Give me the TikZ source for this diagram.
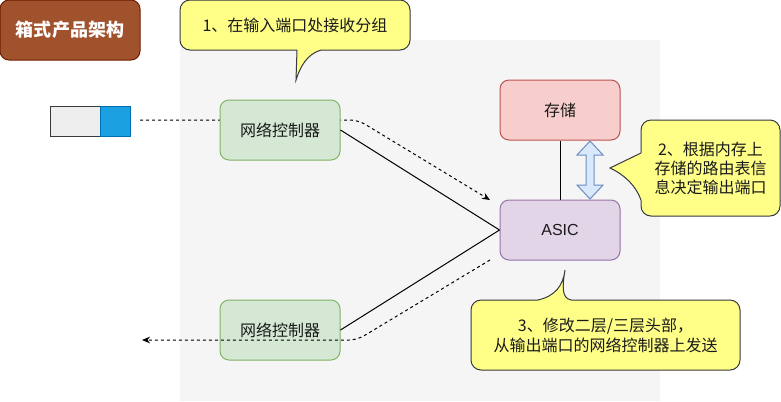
\documentclass[tikz,border=0pt]{standalone}
\usepackage{fontspec}
\setmainfont{Noto Sans CJK SC}
\newfontfamily\latinfont{Liberation Sans}
\usetikzlibrary{arrows.meta}
\definecolor{bgc}{HTML}{F5F5F5}
\definecolor{titlefill}{HTML}{A0522D}
\definecolor{titledraw}{HTML}{6D1F00}
\definecolor{cfill}{HTML}{FFFF88}
\definecolor{cdraw}{HTML}{36393D}
\definecolor{gfill}{HTML}{D5E8D4}
\definecolor{gdraw}{HTML}{82B366}
\definecolor{rfill}{HTML}{F8CECC}
\definecolor{rdraw}{HTML}{B85450}
\definecolor{pfill}{HTML}{E1D5E7}
\definecolor{pdraw}{HTML}{9673A6}
\definecolor{bfill}{HTML}{DAE8FC}
\definecolor{bdraw}{HTML}{6C8EBF}
\definecolor{pkgray}{HTML}{EEEEEE}
\definecolor{pkblue}{HTML}{1BA1E2}
\definecolor{pkbluedraw}{HTML}{006EAF}
\definecolor{txt}{HTML}{1A1A1A}
\begin{document}
\begin{tikzpicture}[x=0.75pt,y=-0.75pt,
  box/.style={draw, rounded corners=6.75pt, minimum width=90pt, minimum height=45pt,
    inner sep=0pt, line width=0.75pt, text=txt, font=\fontsize{12pt}{14pt}\selectfont},
  callout/.style={draw=cdraw, fill=cfill, rounded corners=7.5pt, inner sep=0pt,
    line width=0.75pt, text=txt, align=center},
  ptrfill/.style={fill=cfill},
  ptrdraw/.style={draw=cdraw, line width=0.75pt},
  flow/.style={draw=black, line width=0.75pt, dash pattern=on 2.25pt off 2.25pt,
    rounded corners=6pt, -{Stealth[length=6pt,width=5pt]}},
  link/.style={draw=black, line width=0.75pt}]
\useasboundingbox (0,0) rectangle (781,401);
% background panel
\fill[bgc] (180,40) rectangle (660,401);

% title
\node[draw=titledraw, fill=titlefill, rounded corners=6.75pt, line width=0.75pt,
  minimum width=105pt, minimum height=45pt, inner sep=0pt, text=white,
  font=\fontsize{13.5pt}{16pt}\selectfont\bfseries] (title) at (70,30) {箱式产品架构};

% packet
\node[draw=cdraw, fill=pkgray, line width=0.75pt, minimum width=37.5pt, minimum height=22.5pt, inner sep=0pt] (pkg) at (75,121) {};
\node[draw=pkbluedraw, fill=pkblue, line width=0.75pt, minimum width=22.5pt, minimum height=22.5pt, inner sep=0pt] (pkb) at (115,121) {};

% incoming flow (behind controller)
\coordinate (inS) at (140,120);
\coordinate (inE) at (490,200);
\draw[flow] (inS) -- (358,120) -- (inE);

% main nodes
\node[box, fill=gfill, draw=gdraw] (nc1) at (280,130) {网络控制器};
\node[box, fill=gfill, draw=gdraw] (nc2) at (280,330) {网络控制器};
\node[box, fill=rfill, draw=rdraw] (mem) at (560,110) {存储};
\node[box, fill=pfill, draw=pdraw, font=\fontsize{12pt}{14pt}\latinfont] (asic) at (560,230) {ASIC};

% links
\draw[link] (nc1.east) -- (asic.west);
\draw[link] (nc2.east) -- (asic.west);
\draw[link] (mem.south) -- (asic.north);

% outgoing flow (over controller)
\coordinate (outS) at (490,260);
\coordinate (outE) at (142,340);
\draw[flow] (outS) -- (357,340) -- (outE);

% double block arrow
\filldraw[fill=bfill, draw=bdraw, line width=0.75pt]
  (590,141) -- (603,155) -- (594,155) -- (594,185) -- (603,185) -- (590,199)
  -- (577,185) -- (586,185) -- (586,155) -- (577,155) -- cycle;

% callout 1
\node[callout, minimum width=172.5pt, minimum height=37.5pt,
  font=\fontsize{12pt}{14pt}\selectfont] (c1) at (295,25) {1、在输入端口处接收分组};
\fill[ptrfill] (297,47) -- (297,50) -- (296,80) .. controls (300,67) and (307,54) .. (321,50) -- (321,47) -- cycle;
\draw[ptrdraw] (297,50) -- (296,80) .. controls (300,67) and (307,54) .. (321,50);

% callout 2
\node[callout, minimum width=104.25pt, minimum height=72pt,
  font=\fontsize{12pt}{14.25pt}\selectfont] (c2) at (710.5,168) {2、根据内存上\\存储的路由表信\\息决定输出端口};
\fill[ptrfill] (643,153) -- (641,153) -- (610,168) .. controls (625,175) and (636,186) .. (641,200) -- (643,200) -- cycle;
\draw[ptrdraw] (641,153) -- (610,168) .. controls (625,175) and (636,186) .. (641,200);

% callout 3
\node[callout, minimum width=201.75pt, minimum height=52.5pt,
  font=\fontsize{12pt}{15pt}\selectfont] (c3) at (605.5,335) {3、修改二层/三层头部，\\从输出端口的网络控制器上发送};
\fill[ptrfill] (538,302) -- (538,300) .. controls (555,296) and (563,286) .. (565,270) .. controls (562,288) and (562,298) .. (571,300) -- (571,302) -- cycle;
\draw[ptrdraw] (538,300) .. controls (555,296) and (563,286) .. (565,270) .. controls (562,288) and (562,298) .. (571,300);
\end{tikzpicture}
\end{document}
